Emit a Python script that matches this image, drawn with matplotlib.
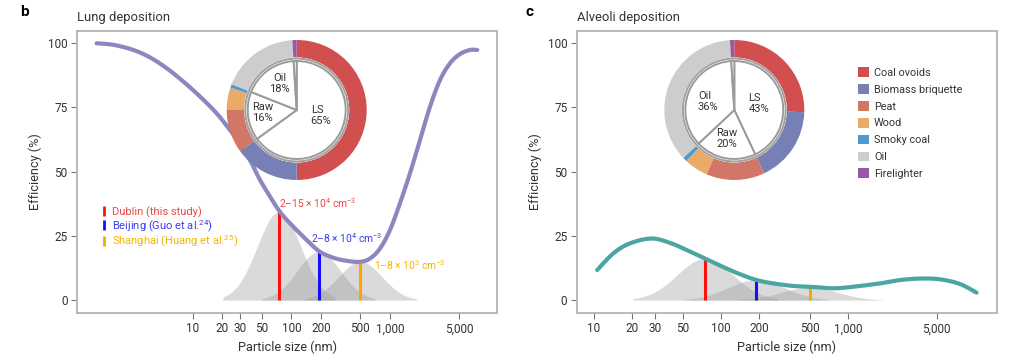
import numpy as np
import matplotlib
matplotlib.use("Agg")
import matplotlib.pyplot as plt
from matplotlib.lines import Line2D
from matplotlib.patches import Patch, Circle

plt.rcParams['font.family'] = ['Roboto', 'DejaVu Sans']
plt.rcParams['mathtext.fontset'] = 'custom'
plt.rcParams['mathtext.rm'] = 'Roboto'

# ---------------- data ----------------
lung_size = [1.06, 1.57, 2.50, 3.69, 5.44, 8.04, 11.9, 17.5, 23.9, 30.1, 38.1, 48.1, 60.8,
             76.8, 96.9, 122, 155, 195, 266, 364, 497, 627, 792, 1000, 1262, 1595,
             2014, 2543, 3213, 4055, 5117, 6471, 7674]
lung_eff = [100, 99.4, 97.4, 94.5, 90.3, 85.1, 79.2, 72.7, 66.2, 61.0, 54.5, 46.8, 40.3,
            34.3, 29.9, 26.0, 22.1, 18.8, 16.5, 15.3, 14.9, 16.2, 20.1, 27.3, 37.7, 49.4,
            62.3, 75.3, 85.7, 92.2, 95.8, 97.4, 97.4]

alv_size = [10.6, 14.2, 19.2, 28.4, 39.6, 53.7, 74.8, 104, 141, 191, 258, 371, 500,
            765, 1100, 1780, 2560, 3700, 5300, 7600, 10300]
alv_eff = [11.7, 18.2, 22.1, 24.0, 22.3, 19.5, 16.2, 12.9, 10.1, 7.8, 6.5, 5.5, 5.2,
           4.6, 5.2, 6.5, 7.8, 8.4, 8.1, 6.3, 2.9]

city_labels = ["Dublin (this study)", "Beijing (Guo et al.$^{24}$)", "Shanghai (Huang et al.$^{25}$)"]
city_modes = [75, 190, 500]               # nm
city_peak_lung = [34.4, 18.8, 15.0]       # %
city_peak_alv = [16.2, 8.0, 5.0]          # %
city_conc = ["2–15 × 10$^{4}$ cm$^{-3}$", "2–8 × 10$^{4}$ cm$^{-3}$", "1–8 × 10$^{3}$ cm$^{-3}$"]
dist_sigma = 0.22     # log10 width of size distributions
dist_extent = 0.57    # log10 half-range drawn

sources = ["Coal ovoids", "Biomass briquette", "Peat", "Wood", "Smoky coal", "Oil", "Firelighter"]
lung_share = [50, 15, 10, 5.2, 0.8, 18, 1]
alv_share = [25.5, 17.5, 13.5, 5.5, 1, 36, 1]
groups = ["LS", "Raw", "Oil", ""]
lung_group = [65, 16, 18, 1]
alv_group = [43, 20, 36, 1]

xticks = [10, 20, 30, 50, 100, 200, 500, 1000, 5000]
xticklabels = ["10", "20", "30", "50", "100", "200", "500", "1,000", "5,000"]
yticks = [0, 25, 50, 75, 100]

# ---------------- style ----------------
src_colors = ["#d24f4f", "#7680b5", "#d27668", "#eaaa6a", "#4a9ccf", "#cdcdcd", "#955aa6"]
line_colors = ["#ff1010", "#1010ff", "#ffa500"]
text_colors = ["#ea4a45", "#3c3cf0", "#f5b400"]
frame_col = "#b4b4b4"
txt_col = "#333333"

W, H = 1034, 357
fig = plt.figure(figsize=(W / 100, H / 100), dpi=100)


def fx(px):
    return px / W


def fy(py):
    return 1 - py / H


def smooth_path(xs, ys, n=12):
    """Catmull-Rom rendering of a polyline (log-x space) for a smooth stroke."""
    lx = np.log10(np.asarray(xs, float))
    y = np.asarray(ys, float)
    P = np.column_stack([lx, y])
    P = np.vstack([P[0], P, P[-1]])
    out = []
    t = np.linspace(0, 1, n, endpoint=False)[:, None]
    for i in range(1, len(P) - 2):
        p0, p1, p2, p3 = P[i - 1], P[i], P[i + 1], P[i + 2]
        seg = 0.5 * ((2 * p1) + (-p0 + p2) * t + (2 * p0 - 5 * p1 + 4 * p2 - p3) * t ** 2
                     + (-p0 + 3 * p1 - 3 * p2 + p3) * t ** 3)
        out.append(seg)
    out.append(P[-2][None, :])
    out = np.vstack(out)
    return 10 ** out[:, 0], out[:, 1]


def setup(ax, xlim):
    ax.set_xscale('log')
    ax.set_xlim(*xlim)
    ax.set_ylim(-4.9, 104.9)
    ax.set_xticks(xticks)
    ax.set_xticklabels(xticklabels)
    ax.minorticks_off()
    ax.set_yticks(yticks)
    for s in ax.spines.values():
        s.set_color(frame_col)
        s.set_linewidth(1.3)
    ax.tick_params(axis='both', length=4, width=0.8, color='#777777',
                   labelsize=8.5, labelcolor=txt_col, pad=3)
    ax.set_xlabel("Particle size (nm)", fontsize=9.2, color=txt_col, labelpad=4)
    ax.set_ylabel("Efficiency (%)", fontsize=9.2, color=txt_col, labelpad=4)


def dists(ax, peaks):
    for c, h in zip(city_modes, peaks):
        u = np.linspace(-dist_extent, dist_extent, 200)
        xs = c * 10 ** u
        ys = h * np.exp(-0.5 * (u / dist_sigma) ** 2)
        ax.fill_between(xs, 0, ys, color=(0.6, 0.6, 0.6), alpha=0.36, lw=0, zorder=1)
    for c, h, col in zip(city_modes, peaks, line_colors):
        ax.plot([c, c], [0, h], color=col, lw=2.2, zorder=2, solid_capstyle='butt')


def donut(center_px, shares, group_vals, labels_spec):
    r = 70
    cx, cy = center_px
    iax = fig.add_axes([fx(cx - r), fy(cy + r), 2 * r / W, 2 * r / H])
    iax.set_xlim(-1, 1)
    iax.set_ylim(-1, 1)
    iax.set_aspect('equal')
    iax.axis('off')
    iax.pie(shares, colors=src_colors, startangle=90, counterclock=False, radius=1.0,
            wedgeprops=dict(width=0.25, edgecolor='none'))
    iax.add_patch(Circle((0, 0), 0.75, facecolor='white', edgecolor='none', zorder=3))
    iax.pie(group_vals, colors=['white'] * len(group_vals), startangle=90, counterclock=False,
            radius=0.70, wedgeprops=dict(edgecolor='#9a9a9a', linewidth=1.4))
    for w in iax.patches[-len(group_vals):]:
        w.set_zorder(4)
    iax.add_patch(Circle((0, 0), 0.735, facecolor='none', edgecolor='#a0a0a0', lw=1.4, zorder=5))
    iax.set_xlim(-1, 1)
    iax.set_ylim(-1, 1)
    for (x, y, t, ha) in labels_spec:
        iax.text(x, y, t, ha=ha, va='center', fontsize=8, color=txt_col, zorder=6,
                 linespacing=1.12)


# ---------------- left panel ----------------
axL = fig.add_axes([fx(77.3), fy(312.7), (497.3 - 77.3) / W, 282 / H])
setup(axL, (0.676, 12240))
dists(axL, city_peak_lung)
sx, sy = smooth_path(lung_size, lung_eff)
axL.plot(sx, sy, color="#8c88bf", lw=3.0, zorder=3, solid_capstyle='round')
conc_pos = [(75, 37.6), (158, 24.2), (690, 13.8)]
for (x, y), t, c in zip(conc_pos, city_conc, text_colors):
    axL.text(x, y, t, color=c, fontsize=7.4, ha='left', va='center', zorder=4)
handles = [Line2D([], [], color=c, marker='|', linestyle='None', markersize=7,
                  markeredgewidth=2.0) for c in line_colors]
axL.legend(handles, city_labels, loc='upper left', bbox_to_anchor=(0.058, 0.378),
           frameon=False, fontsize=8, handlelength=0.4, handletextpad=0.5,
           labelspacing=0.0, borderpad=0, borderaxespad=0, labelcolor=text_colors)

donut((296.7, 110), lung_share, lung_group,
      [(0.2, -0.08, "LS\n65%", 'left'), (-0.64, -0.04, "Raw\n16%", 'left'),
       (-0.24, 0.38, "Oil\n18%", 'center')])

# ---------------- right panel ----------------
axR = fig.add_axes([fx(577), fy(312.7), (996.7 - 577) / W, 282 / H])
setup(axR, (7.35, 14830))
dists(axR, city_peak_alv)
sx, sy = smooth_path(alv_size, alv_eff)
axR.plot(sx, sy, color="#4ba6a1", lw=3.0, zorder=3, solid_capstyle='round')
patches = [Patch(facecolor=c, edgecolor='none') for c in src_colors]
axR.legend(patches, sources, loc='upper left', bbox_to_anchor=(0.67, 0.87),
           frameon=False, fontsize=7.8, handlelength=1.0, handleheight=1.0,
           handletextpad=0.45, labelspacing=0.58, borderpad=0, borderaxespad=0,
           labelcolor=txt_col)

donut((734.3, 110), alv_share, alv_group,
      [(0.2, 0.09, "LS\n43%", 'left'), (-0.52, 0.12, "Oil\n36%", 'left'),
       (-0.105, -0.41, "Raw\n20%", 'center')])

# ---------------- titles ----------------
fig.text(fx(77.3), fy(18), "Lung deposition", fontsize=9.4, color=txt_col, va='center', ha='left')
fig.text(fx(577.3), fy(18), "Alveoli deposition", fontsize=9.4, color=txt_col, va='center', ha='left')
fig.text(fx(20), fy(12), "b", fontsize=11, fontweight='bold', color='black', va='center', ha='left')
fig.text(fx(526), fy(12), "c", fontsize=11, fontweight='bold', color='black', va='center', ha='left')

fig.savefig("out.png", dpi=100)
